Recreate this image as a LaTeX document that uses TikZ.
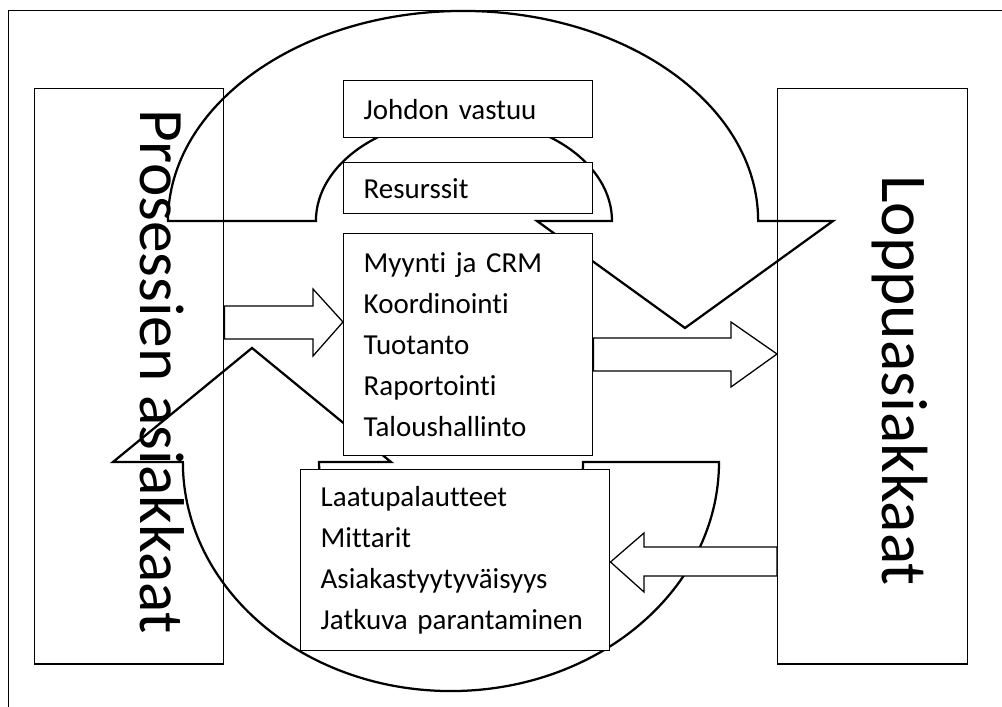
\documentclass[tikz,border=0pt]{standalone}
\usepackage{fontspec}
\setmainfont{Carlito}[Ligatures=NoCommon]
\begin{document}
\begin{tikzpicture}[x=0.025cm,y=-0.025cm,
    reuna/.style={line width=0.6pt},
    sivu/.style={draw,line width=1pt,anchor=north west,inner sep=0pt,minimum height=14.375cm},
    isoteksti/.style={rotate=-90,anchor=base west,inner sep=0pt,font=\fontsize{45pt}{54pt}\selectfont},
    laatikko/.style={draw,fill=white,line width=1pt,anchor=north west,align=left,inner xsep=0.5cm,inner ysep=0pt,text width=5.225cm,font=\fontsize{20.6pt}{29.1pt}\selectfont},
    kaari/.style={line width=1.6pt},
    nuoli/.style={fill=white,line width=0.9pt}]
    \useasboundingbox (0,0) rectangle (1002,707);
    \draw[reuna] (8,10) rectangle (1012,717);
    \node[sivu,minimum width=4.725cm] (pa) at (34,88) {};
    \node[sivu,minimum width=4.75cm] (la) at (777,88) {};
    \node[isoteksti] (palbl) at (140,109) {Prosessien asiakkaat};
    \node[isoteksti,font=\fontsize{46.5pt}{56pt}\selectfont] (lalbl) at (882,175) {Loppuasiakkaat};
    \draw[kaari] (168,221) arc[start angle=180,end angle=0,x radius=7.375cm,y radius=5.25cm]
        -- (833,221) -- (685,328) -- (537,221) -- (612,221)
        arc[start angle=0,end angle=180,x radius=3.7cm,y radius=2.575cm] -- cycle;
    \draw[kaari] (719,462) arc[start angle=0,end angle=-180,x radius=6.7cm,y radius=5.725cm]
        -- (113,462) -- (252,348) -- (391,462) -- (319,462)
        arc[start angle=180,end angle=360,x radius=3.3cm,y radius=2.85cm] -- cycle;
    \node[laatikko,minimum height=1.425cm] (jv) at (343,80) {Johdon vastuu};
    \node[laatikko,minimum height=1.275cm] (res) at (343,162) {Resurssit};
    \node[laatikko,minimum height=5.55cm] (ydin) at (343,233) {Myynti ja CRM\\Koordinointi\\Tuotanto\\Raportointi\\Taloushallinto};
    \node[laatikko,minimum height=4.525cm,text width=6.725cm] (laatu) at (300,469) {Laatupalautteet\\Mittarit\\Asiakastyytyväisyys\\Jatkuva parantaminen};
    \draw[nuoli] (pa.east |- 0,306) -- (313,306) -- (313,289) -- (ydin.west |- 0,322)
        -- (313,356) -- (313,339) -- (pa.east |- 0,339) -- cycle;
    \draw[nuoli] (ydin.east |- 0,338) -- (731,338) -- (731,322) -- (la.west |- 0,354)
        -- (731,387) -- (731,371) -- (ydin.east |- 0,371) -- cycle;
    \draw[nuoli] (la.west |- 0,547) -- (644,547) -- (644,533) -- (laatu.east |- 0,562)
        -- (644,592) -- (644,576) -- (la.west |- 0,576) -- cycle;
\end{tikzpicture}
\end{document}
